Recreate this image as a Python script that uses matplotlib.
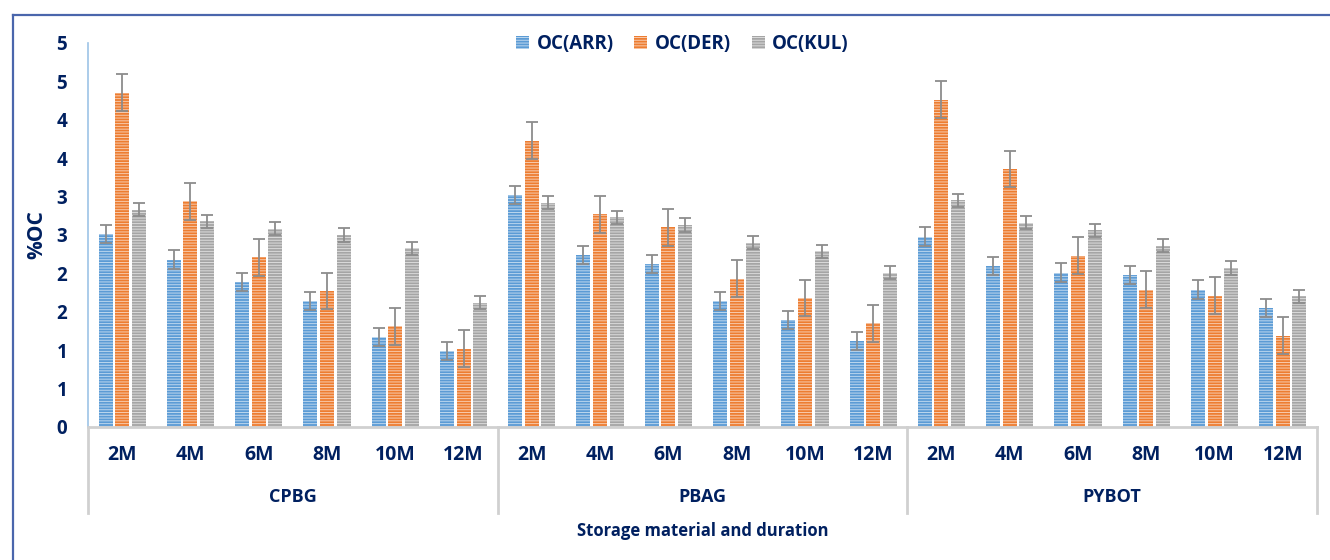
import matplotlib

matplotlib.use('Agg')

import matplotlib.pyplot as plt
import numpy as np
from matplotlib.patches import Patch
from matplotlib.lines import Line2D

# data
groups = ['CPBG', 'PBAG', 'PYBOT']
months = ['2M', '4M', '6M', '8M', '10M', '12M']
series = ['OC(ARR)', 'OC(DER)', 'OC(KUL)']

oc_arr = [2.51, 2.18, 1.89, 1.64, 1.17, 0.99,
          3.02, 2.24, 2.12, 1.64, 1.39, 1.12,
          2.48, 2.10, 2.01, 1.98, 1.79, 1.55]
oc_der = [4.35, 2.94, 2.21, 1.77, 1.31, 1.02,
          3.73, 2.77, 2.60, 1.93, 1.68, 1.35,
          4.26, 3.36, 2.23, 1.79, 1.71, 1.19]
oc_kul = [2.83, 2.68, 2.58, 2.50, 2.33, 1.62,
          2.92, 2.73, 2.63, 2.40, 2.29, 2.01,
          2.95, 2.66, 2.56, 2.36, 2.07, 1.70]
err_arr = [0.12] * 18
err_der = [0.24] * 18
err_kul = [0.085] * 18

y_ticks = [0, 0.5, 1, 1.5, 2, 2.5, 3, 3.5, 4, 4.5, 5]
y_ticklabels = ['0', '1', '1', '2', '2', '3', '3', '4', '4', '5', '5']

navy = '#002060'
colors = ['#5B9BD5', '#ED7D31', '#A5A5A5']
stripes = ['#BDD7EE', '#F8CBAD', '#DBDBDB']

plt.rcParams['font.family'] = ['Open Sans', 'DejaVu Sans']
plt.rcParams['font.weight'] = 'bold'
plt.rcParams['hatch.linewidth'] = 0.7

fig = plt.figure(figsize=(13.3, 5.6), dpi=100)
ax = fig.add_axes([88 / 1330, 133 / 560, 1229 / 1330, 384 / 560])

x = np.arange(len(oc_arr))
step = 0.243
width = 0.205
for i, (vals, errs) in enumerate([(oc_arr, err_arr), (oc_der, err_der), (oc_kul, err_kul)]):
    ax.bar(x + (i - 1) * step, vals, width, color=colors[i], edgecolor=stripes[i],
           linewidth=0, hatch='------', zorder=2)
    ax.errorbar(x + (i - 1) * step, vals, yerr=errs, fmt='none', ecolor='#8C8C8C',
                elinewidth=1.3, capsize=4, capthick=1.3, zorder=3)

ax.set_xlim(-0.5, len(x) - 0.5)
ax.set_ylim(0, 5)
ax.set_yticks(y_ticks)
ax.set_yticklabels(y_ticklabels, fontsize=13.5, fontweight='bold', color=navy)
ax.tick_params(axis='y', length=0, pad=15)
ax.set_xticks([])
for s in ['top', 'right']:
    ax.spines[s].set_visible(False)
ax.spines['left'].set_color('#9DC3E6')
ax.spines['left'].set_linewidth(1.2)
ax.spines['bottom'].set_color('#D0D0D0')
ax.spines['bottom'].set_linewidth(2)

ax.text(-0.042, 0.5, '%OC', transform=ax.transAxes, rotation=90, ha='center', va='center',
        fontsize=15, fontweight='bold', color=navy)

# multi-level category axis
trans = ax.get_xaxis_transform()
for k in range(len(x)):
    ax.text(k, -0.073, months[k % len(months)], transform=trans, ha='center', va='center',
            fontsize=14, fontweight='bold', color=navy)
for g, name in enumerate(groups):
    centre = g * len(months) + (len(months) - 1) / 2
    ax.text(centre, -0.182, name, transform=trans, ha='center', va='center',
            fontsize=13, fontweight='bold', color=navy)
for g in range(len(groups) + 1):
    xs = g * len(months) - 0.5
    ax.add_line(Line2D([xs, xs], [0, -0.225], transform=trans, color='#D0D0D0',
                       linewidth=2, clip_on=False))
ax.text(0.5, -0.27, 'Storage material and duration', transform=ax.transAxes,
        ha='center', va='center', fontsize=12, fontweight='bold', color=navy)

handles = [Patch(facecolor=colors[i], edgecolor=stripes[i], linewidth=0, hatch='------')
           for i in range(3)]
leg = fig.legend(handles, series, loc='center', bbox_to_anchor=(0.513, 0.921), ncol=3,
                 frameon=False, handlelength=0.7, handleheight=0.7, handletextpad=0.4,
                 columnspacing=1.1, prop={'weight': 'bold', 'size': 13.5})
for t in leg.get_texts():
    t.set_color(navy)

# outer frame (only left and top edges visible)
fig.add_artist(Line2D([13 / 1330, 13 / 1330], [0, 1 - 15 / 560], transform=fig.transFigure,
                      color='#4A66AC', linewidth=1.6))
fig.add_artist(Line2D([13 / 1330, 1], [1 - 15 / 560, 1 - 15 / 560], transform=fig.transFigure,
                      color='#4A66AC', linewidth=1.6))

fig.savefig('out.png', dpi=100)
